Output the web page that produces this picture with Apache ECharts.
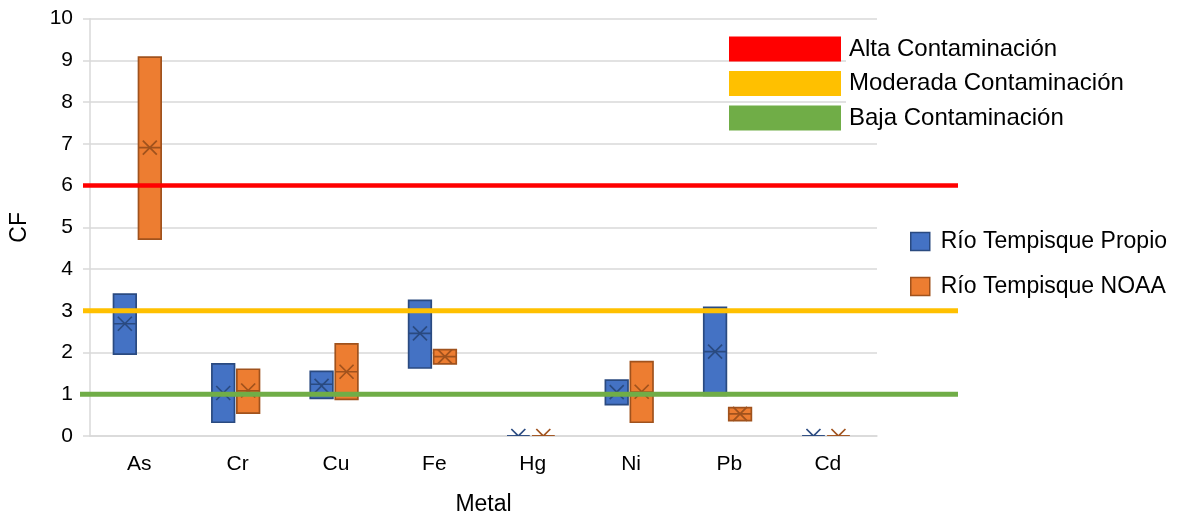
<!DOCTYPE html>
<html>
<head>
<meta charset="utf-8">
<script src="https://cdn.jsdelivr.net/npm/echarts@6/dist/echarts.min.js"></script>
<style>
  html, body { margin: 0; padding: 0; background: #fff; }
  #chart { width: 1179px; height: 516px; }
</style>
</head>
<body>
<div id="chart"></div>
<script>
// Metals on the category axis
const metals = ['As', 'Cr', 'Cu', 'Fe', 'Hg', 'Ni', 'Pb', 'Cd'];

// Río Tempisque Propio: lower edge, median, upper edge, mean of CF
const propioLow    = [1.96, 0.33, 0.90, 1.63, 0, 0.75, 0.97, 0];
const propioMedian = [2.69, 1.02, 1.24, 2.46, 0, 1.02, 2.02, 0];
const propioHigh   = [3.40, 1.73, 1.55, 3.25, 0, 1.34, 3.08, 0];
const propioMean   = [2.69, 1.03, 1.20, 2.46, 0, 1.05, 2.02, 0];

// Río Tempisque NOAA: lower edge, median, upper edge, mean of CF
const noaaLow    = [4.72, 0.55, 0.88, 1.73, 0, 0.33, 0.37, 0];
const noaaMedian = [6.91, 1.08, 1.54, 1.90, 0, 1.05, 0.53, 0];
const noaaHigh   = [9.08, 1.60, 2.21, 2.07, 0, 1.78, 0.68, 0];
const noaaMean   = [6.91, 1.09, 1.54, 1.90, 0, 1.06, 0.53, 0];

// Contamination thresholds
const thresholdNames  = ['Alta Contaminación', 'Moderada Contaminación', 'Baja Contaminación'];
const thresholdValues = [6, 3, 1];
const thresholdColors = ['#FF0000', '#FFC000', '#70AD47'];

const seriesNames = ['Río Tempisque Propio', 'Río Tempisque NOAA'];

const FONT = '"Liberation Sans", Arial, sans-serif';
const GRID_COLOR = '#d9d9d9';

function rows(low, med, high, mean) {
  return metals.map((m, i) => [i, low[i], med[i], high[i], mean[i]]);
}

// Box with median line and an "x" at the mean, shifted inside the category band
function boxRenderer(offsetFrac, fill, stroke) {
  return function (params, api) {
    const cat = api.value(0);
    const band = api.size([1, 0])[0];
    const w = band * 0.23;
    const cx = api.coord([cat, 0])[0] + band * offsetFrac;
    const yLo = api.coord([cat, api.value(1)])[1];
    const yMed = api.coord([cat, api.value(2)])[1];
    const yHi = api.coord([cat, api.value(3)])[1];
    const yMean = api.coord([cat, api.value(4)])[1];
    const s = 7;
    const lw = 1.7;
    return {
      type: 'group',
      children: [
        { type: 'rect', shape: { x: cx - w / 2, y: yHi, width: w, height: yLo - yHi },
          style: { fill: fill, stroke: stroke, lineWidth: lw } },
        { type: 'line', shape: { x1: cx - w / 2, y1: yMed, x2: cx + w / 2, y2: yMed },
          style: { stroke: stroke, lineWidth: lw } },
        { type: 'line', shape: { x1: cx - s, y1: yMean - s, x2: cx + s, y2: yMean + s },
          style: { stroke: stroke, lineWidth: lw } },
        { type: 'line', shape: { x1: cx - s, y1: yMean + s, x2: cx + s, y2: yMean - s },
          style: { stroke: stroke, lineWidth: lw } }
      ]
    };
  };
}

const BLUE = '#4472C4', BLUE_DARK = '#2A4A80';
const ORANGE = '#ED7D31', ORANGE_DARK = '#A0521D';

const chart = echarts.init(document.getElementById('chart'), null, { renderer: 'canvas' });

const thresholdSeries = thresholdNames.map((name, i) => ({
  name: name,
  type: 'line',
  xAxisIndex: i === 2 ? 2 : 1,
  yAxisIndex: i === 2 ? 2 : 1,
  data: [[0, thresholdValues[i]], [1, thresholdValues[i]]],
  symbol: 'none',
  silent: true,
  color: thresholdColors[i],
  lineStyle: { color: thresholdColors[i], width: i === 0 ? 4.5 : 5 },
  z: 5
}));

const hiddenValueAxis = (min, max, gridIndex) => ({
  type: 'value', gridIndex: gridIndex, min: min, max: max,
  show: false, splitLine: { show: false }
});

chart.setOption({
  animation: false,
  backgroundColor: '#ffffff',
  textStyle: { fontFamily: FONT },
  grid: [
    { left: 90, right: 302, top: 18.7, bottom: 80, outerBoundsMode: 'none', containLabel: false },
    { left: 83, right: 221, top: 18.7, bottom: 80, outerBoundsMode: 'none', containLabel: false },
    { left: 80, right: 221, top: 18.7, bottom: 80, outerBoundsMode: 'none', containLabel: false }
  ],
  graphic: [
    // white panel behind the threshold legend text
    { type: 'rect', left: 846, top: 30, shape: { width: 34, height: 105 },
      style: { fill: '#ffffff' }, z: 1, silent: true }
  ],
  xAxis: [
    {
      type: 'category',
      gridIndex: 0,
      data: metals,
      name: 'Metal',
      nameLocation: 'middle',
      nameGap: 57,
      nameTextStyle: { fontSize: 23, color: '#000', fontFamily: FONT },
      axisLine: { show: true, lineStyle: { color: GRID_COLOR, width: 1.5 } },
      axisTick: { show: false },
      axisLabel: { fontSize: 21, color: '#000', margin: 18, fontFamily: FONT },
      splitLine: { show: false }
    },
    hiddenValueAxis(0, 1, 1),
    hiddenValueAxis(0, 1, 2)
  ],
  yAxis: [
    {
      type: 'value',
      gridIndex: 0,
      min: 0,
      max: 10,
      interval: 1,
      name: 'CF',
      nameLocation: 'middle',
      nameGap: 59,
      nameTextStyle: { fontSize: 23, color: '#000', fontFamily: FONT },
      axisLine: { show: true, lineStyle: { color: GRID_COLOR, width: 1.5 } },
      axisTick: { show: true, length: 7, lineStyle: { color: GRID_COLOR, width: 1.5 } },
      axisLabel: { fontSize: 21, color: '#000', margin: 17, fontFamily: FONT },
      splitLine: { show: true, lineStyle: { color: GRID_COLOR, width: 1.5 } }
    },
    hiddenValueAxis(0, 10, 1),
    hiddenValueAxis(0, 10, 2)
  ],
  legend: [
    {
      orient: 'vertical',
      left: 724,
      top: 31.5,
      itemWidth: 112,
      itemHeight: 25,
      itemGap: 9.5,
      icon: 'rect',
      selectedMode: false,
      textStyle: { fontSize: 24, color: '#000', fontFamily: FONT, padding: [0, 0, 0, 3] },
      data: thresholdNames.map((n, i) => ({ name: n, itemStyle: { color: thresholdColors[i], borderWidth: 0 } }))
    },
    {
      orient: 'vertical',
      left: 905,
      top: 225,
      itemWidth: 19,
      itemHeight: 18,
      itemGap: 22,
      icon: 'rect',
      selectedMode: false,
      textStyle: { fontSize: 23, color: '#000', fontFamily: FONT, padding: [0, 0, 0, 6] },
      data: [
        { name: seriesNames[0], itemStyle: { color: BLUE, borderColor: BLUE_DARK, borderWidth: 1.5 } },
        { name: seriesNames[1], itemStyle: { color: ORANGE, borderColor: ORANGE_DARK, borderWidth: 1.5 } }
      ]
    }
  ],
  series: [
    {
      name: seriesNames[0],
      type: 'custom',
      xAxisIndex: 0,
      yAxisIndex: 0,
      clip: true,
      itemStyle: { color: BLUE, borderColor: BLUE_DARK },
      encode: { x: 0, y: [1, 2, 3, 4] },
      renderItem: boxRenderer(-0.146, BLUE, BLUE_DARK),
      data: rows(propioLow, propioMedian, propioHigh, propioMean),
      z: 2
    },
    {
      name: seriesNames[1],
      type: 'custom',
      xAxisIndex: 0,
      yAxisIndex: 0,
      clip: true,
      itemStyle: { color: ORANGE, borderColor: ORANGE_DARK },
      encode: { x: 0, y: [1, 2, 3, 4] },
      renderItem: boxRenderer(0.108, ORANGE, ORANGE_DARK),
      data: rows(noaaLow, noaaMedian, noaaHigh, noaaMean),
      z: 2
    }
  ].concat(thresholdSeries)
});
</script>
</body>
</html>
